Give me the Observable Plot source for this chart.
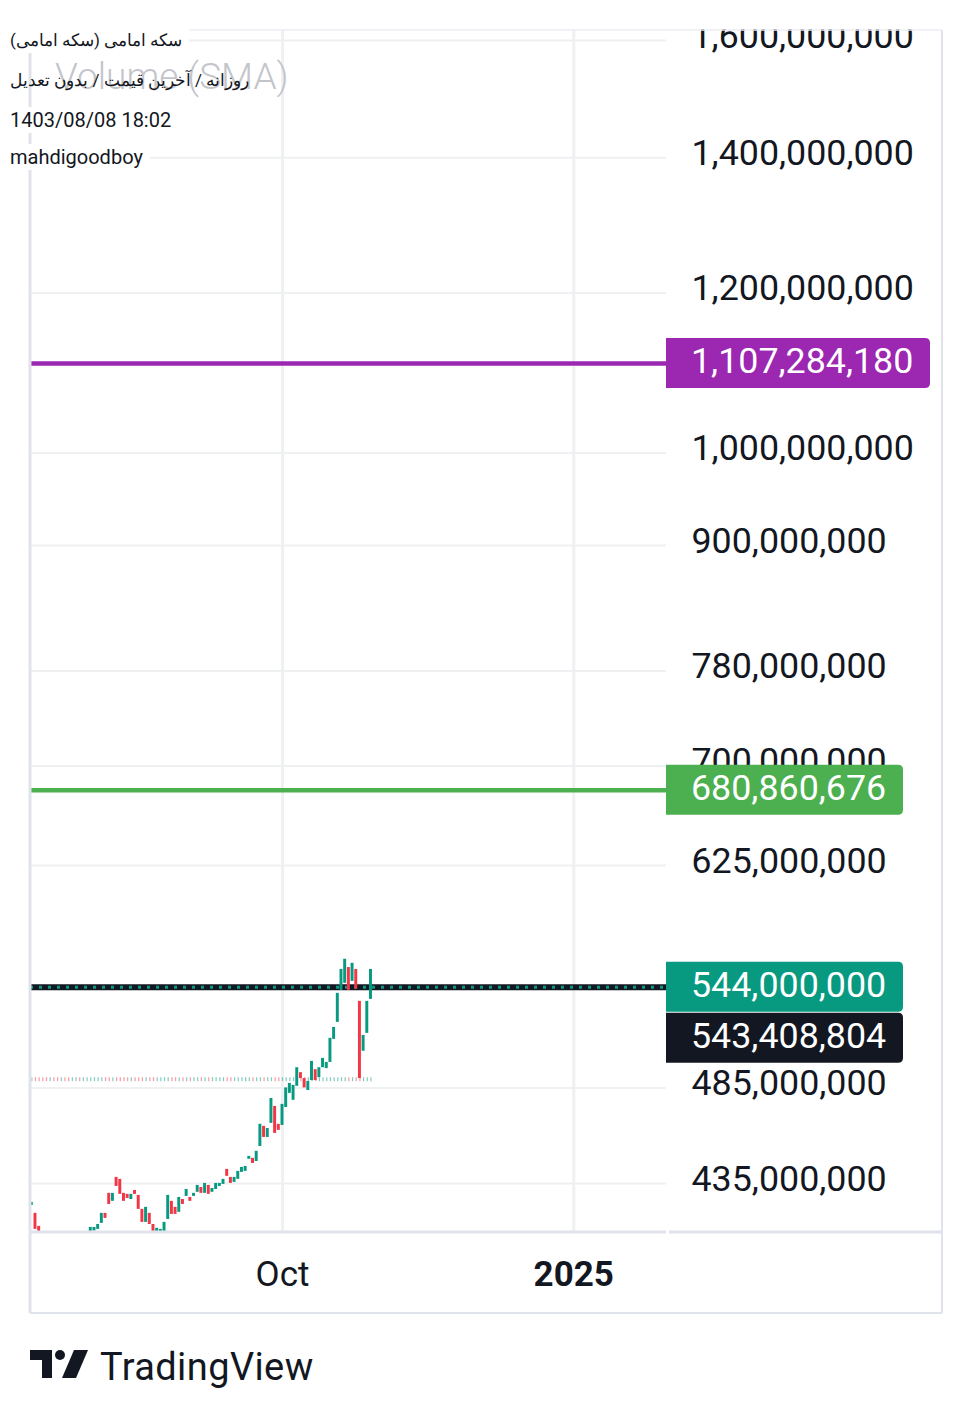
<!DOCTYPE html>
<html><head><meta charset="utf-8">
<script src="https://cdn.jsdelivr.net/npm/d3@7"></script>
<script src="https://cdn.jsdelivr.net/npm/@observablehq/plot@0.6"></script>
<style>
body{margin:0;background:#fff;font-family:Roboto,"Noto Sans",sans-serif;}
#wrap{position:relative;width:972px;height:1419px;overflow:hidden;}
#wrap svg.plotsvg{position:absolute;left:0;top:0;}
.hdr{position:absolute;left:10px;font-size:20px;color:#131722;line-height:26px;white-space:nowrap;padding-right:7px;}
.fa{font-size:17px;}
.bg{background:#fff;}
#wm{position:absolute;left:55px;top:55px;font-size:37px;font-weight:300;color:#c3c5ca;line-height:44px;white-space:nowrap;}
#logo{position:absolute;left:30px;top:1350px;}
#tv{position:absolute;left:100px;top:1344px;font-size:38px;color:#131722;line-height:46px;letter-spacing:0.4px;}
</style></head><body><div id="wrap"></div>
<script>
// ---- data (millions of rials), one bar per trading day ----
const opens = [
  424.2, 420.4, 414.2,
  408.0, 404.5, 401.0, 403.0, 398.5, 396.0, 399.5, 397.0, 394.0, 397.5, 401.5, 399.0, 404.0,
  411.5, 412.0, 412.8, 415.6, 420.4, 430.1, 426.2, 438.0, 437.0, 430.1,
  429.6, 427.1, 431.5, 429.1, 422.3, 416.1, 420.4, 415.1, 411.0, 411.5,
  411.5, 417.5, 426.2, 423.3, 420.9, 427.1, 428.6, 428.1, 428.6, 430.6,
  433.0, 430.1, 434.0, 430.6, 432.0, 433.5, 434.5, 442.0, 438.0, 435.5,
  437.0, 440.5, 441.0, 447.1, 447.6, 446.0, 453.7, 464.2, 458.4, 465.8,
  474.9, 465.3, 464.7, 474.3, 482.0, 478.2, 485.9, 493.5, 490.2, 483.6,
  489.1, 495.2, 490.7, 496.3, 495.8, 499.3, 512.6, 522.6, 542.0, 546.4,
  556.3, 547.6, 555.1, 535.3, 505.7, 516.1, 536.5
];
const closes = [
  425.7, 412.8, 408.0,
  404.5, 401.0, 403.0, 398.5, 396.0, 399.5, 397.0, 394.0, 397.5, 401.5, 399.0, 404.0, 408.5,
  413.7, 413.7, 415.1, 420.4, 418.0, 424.7, 430.1, 433.5, 429.6, 426.2,
  427.6, 429.6, 429.6, 422.3, 416.1, 423.3, 415.1, 411.0, 413.3, 412.8,
  416.1, 429.1, 419.9, 419.9, 428.1, 424.7, 432.0, 426.2, 430.1, 434.0,
  430.1, 435.0, 429.6, 432.5, 435.0, 435.0, 437.0, 438.5, 435.0, 438.0,
  441.0, 443.0, 443.5, 448.6, 445.0, 451.2, 465.3, 458.4, 463.1, 479.2,
  460.5, 462.1, 476.0, 485.0, 487.5, 486.4, 496.3, 490.2, 485.0, 488.6,
  499.9, 489.1, 496.3, 501.6, 499.3, 513.2, 519.6, 540.2, 555.1, 561.6,
  542.0, 559.0, 542.7, 490.2, 514.9, 535.3, 555.1
];
const yTickValues = [1600000000, 1400000000, 1200000000, 1000000000, 900000000, 780000000, 700000000, 625000000, 485000000, 435000000];
const monthTickBars = [68];
const monthTickLabels = ["Oct"];
const yearTickBars = [147];
const yearTickLabels = ["2025"];
const levelValues = [1107284180, 680860676];
const levelColors = ["#9c27b0", "#4caf50"];
const lastPrice = 544000000;
const prevPrice = 543408804;
const volumeLevel = 489600000;
const headerLines = ["سکه امامی (سکه امامی)", "روزانه / آخرین قیمت / بدون تعدیل", "1403/08/08 18:02", "mahdigoodboy"];
const watermark = "Volume (SMA)";

const UP = "#089981", DOWN = "#f23645";
const bars = opens.map((o, i) => ({i, open: o * 1e6, close: closes[i] * 1e6, up: closes[i] >= o}));
const monthTicks = monthTickBars.map((b, k) => ({i: b, label: monthTickLabels[k]}));
const yearTicks = yearTickBars.map((b, k) => ({i: b, label: yearTickLabels[k]}));
const levels = levelValues.map((v, k) => ({v, c: levelColors[k]}));

const plot = Plot.plot({
  width: 972, height: 1419,
  marginTop: 30, marginBottom: 188, marginLeft: 30, marginRight: 306,
  x: {type: "linear", domain: [-0.35, 172.15], axis: null},
  y: {type: "log", domain: [411.8e6, 1618.3e6]},
  style: {fontFamily: "Roboto, sans-serif", color: "#131722", background: "transparent", overflow: "visible"},
  marks: [
    Plot.gridY(yTickValues, {stroke: "#eff0f2", strokeOpacity: 1, strokeWidth: 2}),
    Plot.gridX([...monthTickBars, ...yearTickBars], {stroke: "#eff0f2", strokeOpacity: 1, strokeWidth: 3}),
    Plot.axisY(yTickValues, {anchor: "right", tickSize: 0, tickPadding: 25, tickFormat: d3.format(","), fontSize: 35.8, label: null, dy: -4}),
    Plot.text(monthTicks, {x: "i", text: "label", frameAnchor: "bottom", lineAnchor: "middle", dy: 43, fontSize: 35, fill: "#131722"}),
    Plot.text(yearTicks, {x: "i", text: "label", frameAnchor: "bottom", lineAnchor: "middle", dy: 43, fontSize: 35, fontWeight: "bold", fill: "#131722"}),
    Plot.ruleX(bars, {x: "i", y1: () => volumeLevel, y2: () => volumeLevel, insetTop: -2, insetBottom: -2, stroke: d => d.up ? UP : DOWN, strokeOpacity: 0.5, strokeWidth: 1.2}),
    Plot.ruleY(levels, {y: "v", stroke: "c", strokeWidth: 4.5}),
    Plot.ruleY([lastPrice], {stroke: "#131722", strokeWidth: 6}),
    Plot.ruleY([lastPrice], {stroke: UP, strokeWidth: 3, strokeDasharray: "3,6"}),
    Plot.rect(bars, {x1: d => d.i - 0.4, x2: d => d.i + 0.4, y1: "open", y2: "close", fill: d => d.up ? UP : DOWN, clip: true, insetTop: 0, insetBottom: 0})
  ]
});
plot.classList.add("plotsvg");
document.getElementById("wrap").appendChild(plot);

const svg = d3.select(plot);
const ys = plot.scale("y");
// frame / separators
const fr = svg.append("g").attr("stroke", "#e0e3eb").attr("fill", "none");
fr.append("line").attr("x1", 30).attr("x2", 30).attr("y1", 30).attr("y2", 1313).attr("stroke-width", 3);
fr.append("line").attr("x1", 942).attr("x2", 942).attr("y1", 30).attr("y2", 1313).attr("stroke-width", 2);
fr.append("line").attr("x1", 30).attr("x2", 942).attr("y1", 1313).attr("y2", 1313).attr("stroke-width", 2);
fr.append("line").attr("x1", 30).attr("x2", 666).attr("y1", 1232).attr("y2", 1232).attr("stroke-width", 3);
fr.append("line").attr("x1", 669).attr("x2", 942).attr("y1", 1232).attr("y2", 1232).attr("stroke-width", 3);

function tag(y, w, color, text) {
  const x0 = 666, x1 = 666 + w, y0 = y - 25, y1 = y + 25, r = 5;
  const g = svg.append("g");
  g.append("path").attr("fill", color)
    .attr("d", `M${x0},${y0}H${x1 - r}Q${x1},${y0} ${x1},${y0 + r}V${y1 - r}Q${x1},${y1} ${x1 - r},${y1}H${x0}Z`);
  g.append("text").attr("x", 691).attr("y", y).attr("dy", "0.28em").attr("fill", "#fff")
    .attr("text-anchor", "start")
    .attr("font-size", 35.8).attr("font-family", "Roboto, sans-serif").text(text);
}
const fmt = d3.format(",");
tag(ys.apply(levelValues[0]), 264, levelColors[0], fmt(levelValues[0]));
tag(ys.apply(levelValues[1]), 237, levelColors[1], fmt(levelValues[1]));
tag(ys.apply(lastPrice), 237, UP, fmt(lastPrice));
tag(ys.apply(prevPrice) + 50, 237, "#131722", fmt(prevPrice));
// top clip
svg.append("rect").attr("x", 0).attr("y", 0).attr("width", 972).attr("height", 29).attr("fill", "#fff");
svg.append("line").attr("x1", 30).attr("x2", 942).attr("y1", 30).attr("y2", 30).attr("stroke", "#eceef2").attr("stroke-width", 1.5);

// header overlay
const wrap = document.getElementById("wrap");
const wm = document.createElement("div"); wm.id = "wm"; wm.textContent = watermark; wrap.appendChild(wm);
const tops = [27, 67, 107, 144];
headerLines.forEach((t, k) => {
  const d = document.createElement("div");
  d.className = "hdr" + (k === 1 ? "" : " bg") + (k < 2 ? " fa" : "");
  if (k < 2) d.dir = "rtl";
  d.style.top = tops[k] + "px";
  d.textContent = t;
  wrap.appendChild(d);
});
const logo = document.createElement("div"); logo.id = "logo";
logo.innerHTML = '<svg width="60" height="30" viewBox="0 0 60 30"><path d="M0 0H22V28H12V10H0Z" fill="#131722"/><circle cx="30" cy="5" r="5" fill="#131722"/><path d="M44 0H58L46 28H32Z" fill="#131722"/></svg>';
wrap.appendChild(logo);
const tv = document.createElement("div"); tv.id = "tv"; tv.textContent = "TradingView"; wrap.appendChild(tv);
</script></body></html>
